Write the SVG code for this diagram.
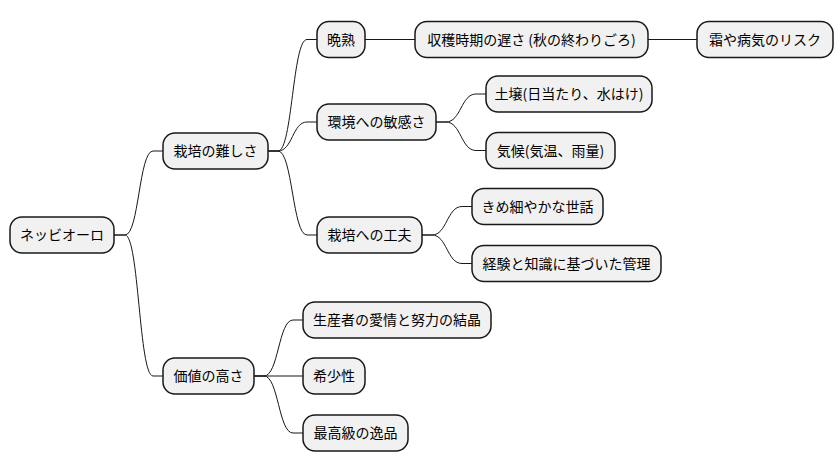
<svg xmlns="http://www.w3.org/2000/svg" width="840" height="471" viewBox="0 0 840 471">
<style>
.n rect{fill:#F1F1F1;stroke:#181818;stroke-width:1.5}
.n text{font-family:"Noto Sans CJK JP","Noto Sans",sans-serif;font-size:14px;fill:#000;text-anchor:middle}
.c path{fill:none;stroke:#181818;stroke-width:1}
</style>
<rect width="840" height="471" fill="#fff"/>
<g class="c" id="connectors">
<path d="M114,235 H125 C139,235 139,151 153,151 H163"/>
<path d="M114,235 H125 C139,235 139,376 153,376 H163"/>
<path d="M268,151 H278 C292.5,151 292.5,39.5 307,39.5 H317"/>
<path d="M268,151 H278 C292.5,151 292.5,122 307,122 H317"/>
<path d="M268,151 H278 C292.5,151 292.5,235 307,235 H317"/>
<path d="M365,39.5 H415"/>
<path d="M648,39.5 H697"/>
<path d="M436,122 H446 C461,122 461,94 476,94 H486"/>
<path d="M436,122 H446 C461,122 461,150.5 476,150.5 H486"/>
<path d="M422,235 H432 C447,235 447,206.5 462,206.5 H472"/>
<path d="M422,235 H432 C447,235 447,263.5 462,263.5 H472"/>
<path d="M254,376 H264 C278.5,376 278.5,320 293,320 H303"/>
<path d="M254,376 H303"/>
<path d="M254,376 H264 C278.5,376 278.5,433 293,433 H303"/>
</g>
<g class="n" id="root"><rect x="10" y="217" width="104" height="36" rx="12"/><text x="62" y="240">ネッビオーロ</text></g>
<g class="n" id="difficulty"><rect x="163" y="133" width="105" height="36" rx="12"/><text x="215.5" y="156">栽培の難しさ</text></g>
<g class="n" id="value"><rect x="163" y="358" width="91" height="36" rx="12"/><text x="208.5" y="381">価値の高さ</text></g>
<g class="n" id="late"><rect x="317" y="21.5" width="48" height="36" rx="12"/><text x="341" y="44.5">晩熟</text></g>
<g class="n" id="harvest"><rect x="415" y="21.5" width="233" height="36" rx="12"/><text x="531.5" y="44.5">収穫時期の遅さ (秋の終わりごろ)</text></g>
<g class="n" id="risk"><rect x="697" y="21.5" width="136" height="36" rx="12"/><text x="765" y="44.5">霜や病気のリスク</text></g>
<g class="n" id="sensitive"><rect x="317" y="104" width="119" height="36" rx="12"/><text x="376.5" y="127">環境への敏感さ</text></g>
<g class="n" id="soil"><rect x="486" y="76" width="166" height="36" rx="12"/><text x="569" y="99">土壌(日当たり、水はけ)</text></g>
<g class="n" id="climate"><rect x="486" y="132.5" width="129" height="36" rx="12"/><text x="550.5" y="155.5">気候(気温、雨量)</text></g>
<g class="n" id="effort"><rect x="317" y="217" width="105" height="36" rx="12"/><text x="369.5" y="240">栽培への工夫</text></g>
<g class="n" id="care"><rect x="472" y="188.5" width="131" height="36" rx="12"/><text x="537.5" y="211.5">きめ細やかな世話</text></g>
<g class="n" id="manage"><rect x="472" y="245.5" width="189" height="36" rx="12"/><text x="566.5" y="268.5">経験と知識に基づいた管理</text></g>
<g class="n" id="love"><rect x="303" y="302" width="188" height="36" rx="12"/><text x="397" y="325">生産者の愛情と努力の結晶</text></g>
<g class="n" id="rare"><rect x="303" y="358" width="62" height="36" rx="12"/><text x="334" y="381">希少性</text></g>
<g class="n" id="best"><rect x="303" y="415" width="105" height="36" rx="12"/><text x="355.5" y="438">最高級の逸品</text></g>
</svg>
